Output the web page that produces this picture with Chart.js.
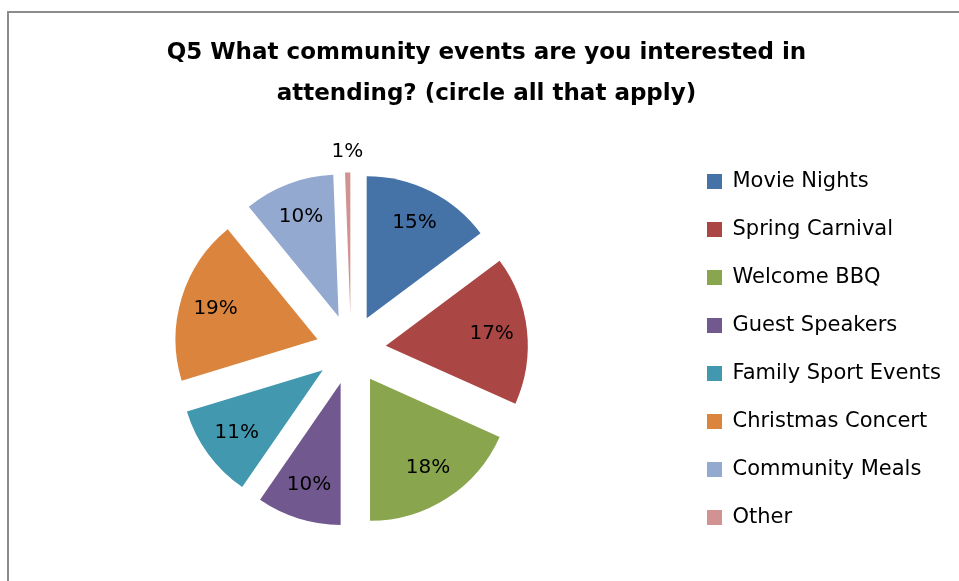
<!DOCTYPE html>
<html>
<head>
<meta charset="utf-8">
<script src="https://cdn.jsdelivr.net/npm/chart.js@4.4.1/dist/chart.umd.min.js"></script>
<style>
  html, body { margin: 0; padding: 0; background: #fff; overflow: hidden; }
  #frame {
    position: absolute; left: 7px; top: 11px;
    border-left: 2px solid #8c8c8c; border-top: 2px solid #8c8c8c;
  }
  #box { position: relative; width: 1000px; height: 580px; }
</style>
</head>
<body>
<div id="frame"><div id="box"><canvas id="chart"></canvas></div></div>
<script>
// data (shares in %, clockwise from 12 o'clock)
const categories = ['Movie Nights', 'Spring Carnival', 'Welcome BBQ', 'Guest Speakers',
  'Family Sport Events', 'Christmas Concert', 'Community Meals', 'Other'];
const shares = [14.8, 16.9, 18.3, 9.6, 10.7, 18.8, 10.3, 0.6];
const sliceColors = ['#4572A7', '#AA4643', '#89A54E', '#71588F',
  '#4198AF', '#DB843D', '#93A9CF', '#D19392'];
const titleLines = ['Q5 What community events are you interested in',
  'attending? (circle all that apply)'];

const FONT = '"DejaVu Sans", sans-serif';
const LEGEND_SIZE = 21;
const LEGEND_PAD = 27;
const ITEM_X = 698;     // where the legend boxes start
const PIE_CX = 342;
const EXPLODE = 35;     // distance each slice is pulled out
const RADIUS = 142;

// legend item width decides how far the legend sits from the right edge
const mctx = document.createElement('canvas').getContext('2d');
mctx.font = 'normal ' + LEGEND_SIZE + 'px ' + FONT;
const textW = Math.max(...categories.map(c => mctx.measureText(c).width));
const itemW = 15 + LEGEND_SIZE / 2 + textW;
const rightPad = 1000 - (ITEM_X + itemW + 10);
const leftPad = 2 * PIE_CX - (ITEM_X - LEGEND_PAD);

// pull every slice out along its middle angle (like Excel's exploded pie)
const explode = {
  id: 'explode',
  afterDatasetsUpdate(chart) {
    chart.getDatasetMeta(0).data.forEach(arc => {
      const mid = (arc.startAngle + arc.endAngle) / 2;
      arc.x += Math.cos(mid) * EXPLODE;
      arc.y += Math.sin(mid) * EXPLODE;
    });
  }
};

// percentage labels, small slices get theirs outside
const sliceLabels = {
  id: 'sliceLabels',
  afterDatasetsDraw(chart) {
    const ctx = chart.ctx;
    ctx.save();
    ctx.font = '20px ' + FONT;
    ctx.fillStyle = '#000';
    ctx.textAlign = 'center';
    ctx.textBaseline = 'middle';
    chart.getDatasetMeta(0).data.forEach((arc, i) => {
      const mid = (arc.startAngle + arc.endAngle) / 2;
      const r = shares[i] < 2 ? arc.outerRadius + 21 : arc.outerRadius * 0.75;
      ctx.fillText(Math.round(shares[i]) + '%', arc.x + Math.cos(mid) * r, arc.y + Math.sin(mid) * r);
    });
    ctx.restore();
  }
};

new Chart(document.getElementById('chart'), {
  type: 'pie',
  data: {
    labels: categories,
    datasets: [{
      data: shares,
      backgroundColor: sliceColors,
      borderWidth: 0
    }]
  },
  options: {
    responsive: true,
    maintainAspectRatio: false,
    animation: false,
    radius: RADIUS,
    layout: { padding: { left: leftPad, right: rightPad, top: 0, bottom: 17 } },
    plugins: {
      title: {
        display: true,
        text: titleLines,
        color: '#000',
        font: { family: FONT, size: 23, weight: 'bold', lineHeight: '41px' },
        padding: { top: 20, bottom: 8 }
      },
      legend: {
        position: 'right',
        fullSize: false,
        align: 'center',
        labels: {
          boxWidth: 15,
          boxHeight: 15,
          padding: LEGEND_PAD,
          color: '#000',
          font: { family: FONT, size: LEGEND_SIZE }
        }
      },
      tooltip: { enabled: false }
    }
  },
  plugins: [explode, sliceLabels]
});
</script>
</body>
</html>
